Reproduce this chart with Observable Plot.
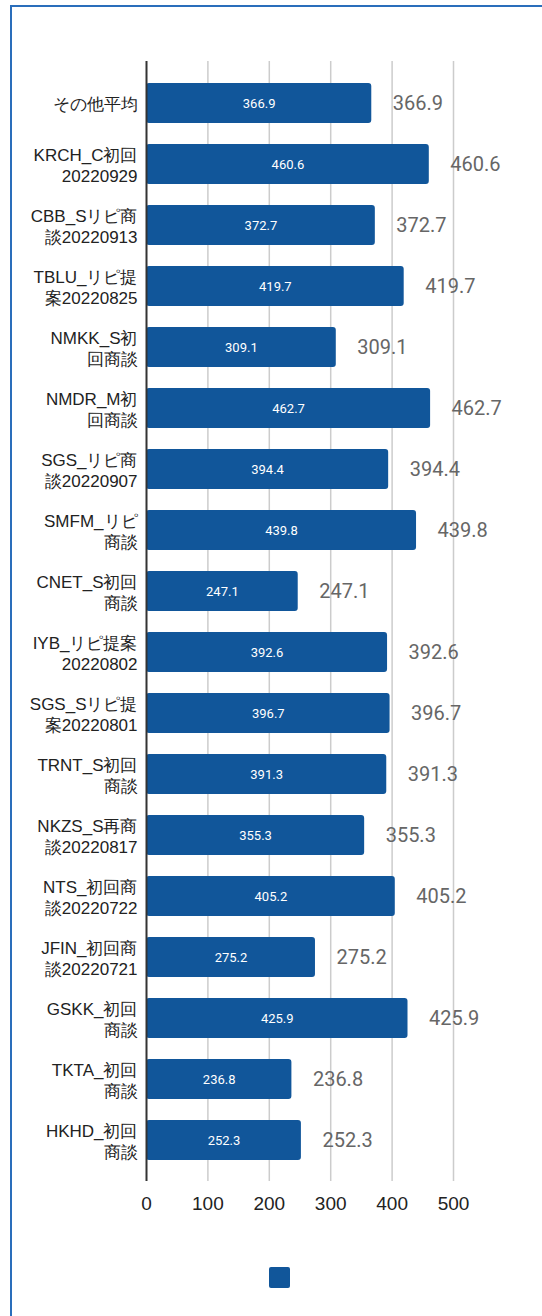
<!DOCTYPE html>
<html>
<head>
<meta charset="utf-8">
<script src="https://cdn.jsdelivr.net/npm/d3@7"></script>
<script src="https://cdn.jsdelivr.net/npm/@observablehq/plot@0.6"></script>
<style>
  html, body { margin: 0; padding: 0; background: #fff; }
  #frame { position: absolute; left: 10px; top: 5px; width: 600px; height: 1400px;
           border-top: 2px solid #2a6ebb; border-left: 2px solid #2a6ebb; box-sizing: border-box; }
  #chart { position: relative; }
  #legend { position: relative; margin-top: 27px; margin-left: 269px; width: 21px; height: 21px;
            background: #11569a; border-radius: 2px; }
</style>
</head>
<body>
<div id="frame"></div>
<div id="chart"></div>
<div id="legend"></div>
<script>
const categories = [
  "その他平均", "KRCH_C初回20220929", "CBB_Sリピ商談20220913", "TBLU_リピ提案20220825",
  "NMKK_S初回商談", "NMDR_M初回商談", "SGS_リピ商談20220907", "SMFM_リピ商談",
  "CNET_S初回商談", "IYB_リピ提案20220802", "SGS_Sリピ提案20220801", "TRNT_S初回商談",
  "NKZS_S再商談20220817", "NTS_初回商談20220722", "JFIN_初回商談20220721", "GSKK_初回商談",
  "TKTA_初回商談", "HKHD_初回商談"
];
const tickLabels = [
  "その他平均", "KRCH_C初回\n20220929", "CBB_Sリピ商\n談20220913", "TBLU_リピ提\n案20220825",
  "NMKK_S初\n回商談", "NMDR_M初\n回商談", "SGS_リピ商\n談20220907", "SMFM_リピ\n商談",
  "CNET_S初回\n商談", "IYB_リピ提案\n20220802", "SGS_Sリピ提\n案20220801", "TRNT_S初回\n商談",
  "NKZS_S再商\n談20220817", "NTS_初回商\n談20220722", "JFIN_初回商\n談20220721", "GSKK_初回\n商談",
  "TKTA_初回\n商談", "HKHD_初回\n商談"
];
const values = [366.9, 460.6, 372.7, 419.7, 309.1, 462.7, 394.4, 439.8, 247.1, 392.6,
                396.7, 391.3, 355.3, 405.2, 275.2, 425.9, 236.8, 252.3];
const xTicks = [0, 100, 200, 300, 400, 500];

const data = categories.map((c, i) => ({name: c, value: values[i]}));
const labelMap = new Map(categories.map((c, i) => [c, tickLabels[i]]));

const chart = Plot.plot({
  width: 542,
  height: 1240,
  marginTop: 61,
  marginBottom: 59,
  marginLeft: 146,
  marginRight: 89,
  style: {fontFamily: "'Liberation Sans', Arial, sans-serif", background: "transparent", color: "#222"},
  x: {domain: [0, 500]},
  y: {domain: categories, padding: 0.345},
  marks: [
    Plot.gridX(xTicks.slice(1), {stroke: "#cccccc", strokeOpacity: 1, strokeWidth: 1.5}),
    Plot.barX(data, {x: "value", y: "name", fill: "#11569a", rx: 3}),
    Plot.ruleX([0], {stroke: "#333", strokeWidth: 2}),
    Plot.axisX({ticks: xTicks, tickSize: 0, tickPadding: 15, fontSize: 19, label: null, fill: "#222"}),
    Plot.axisY({tickSize: 0, tickPadding: 9, fontSize: 17, lineHeight: 1.24, label: null,
                tickFormat: d => labelMap.get(d), fill: "#222"}),
    Plot.text(data, {x: d => d.value / 2, y: "name", text: d => d.value.toFixed(1),
                     fill: "white", fontSize: 13, fontFamily: "Roboto, sans-serif"}),
    Plot.text(data, {x: "value", y: "name", text: d => d.value.toFixed(1), dx: 21,
                     textAnchor: "start", fill: "#666", fontSize: 20, fontFamily: "Roboto, sans-serif"})
  ]
});
document.getElementById("chart").appendChild(chart);
</script>
</body>
</html>
